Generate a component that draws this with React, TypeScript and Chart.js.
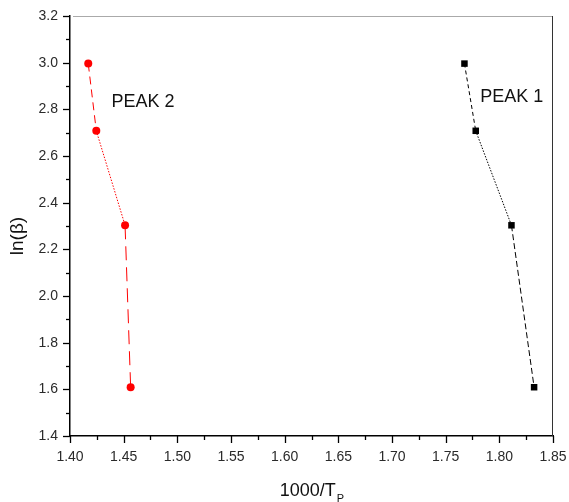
import React, { useEffect, useRef } from "react";
import { Chart, registerables } from "chart.js";
Chart.register(...registerables);

// ln(beta) for beta = 20, 15, 10, 5
const lnBeta = [2.996, 2.708, 2.303, 1.609];
const peak1X = [1.7675, 1.778, 1.8113, 1.8324];
const peak2X = [1.417, 1.4245, 1.4513, 1.4565];
const peakLabels = ["PEAK 1", "PEAK 2"];
const peakLabelX = [1.8115, 1.468];
const peakLabelY = [2.853, 2.831];
const xMin = 1.4, xMax = 1.85, xStep = 0.05;
const yMin = 1.4, yMax = 3.2, yStep = 0.2;
const xTitle = "1000/T";
const xTitleSub = "P";
const yTitle = "ln(β)";

const dashes1 = [[4, 3], [1.5, 1.5], [6, 3]];
const dashes2 = [[8, 5], [1.5, 1.5], [14, 7]];

const FONT = "'Liberation Sans', Arial, sans-serif";

const decor = {
  id: "decor",
  afterDraw(chart: any) {
    const ctx = chart.ctx;
    const a = chart.chartArea;
    const xs = chart.scales.x;
    const ys = chart.scales.y;
    ctx.save();
    // top and right frame
    ctx.lineWidth = 1;
    ctx.strokeStyle = "#aaaaaa";
    ctx.beginPath();
    ctx.moveTo(a.left + 3, a.top + 0.5);
    ctx.lineTo(a.right, a.top + 0.5);
    ctx.stroke();
    ctx.strokeStyle = "#333333";
    ctx.beginPath();
    ctx.moveTo(a.right - 0.5, a.top);
    ctx.lineTo(a.right - 0.5, a.bottom);
    ctx.stroke();
    // tick marks
    ctx.strokeStyle = "#000";
    ctx.lineWidth = 1.3;
    const nx = Math.round((xMax - xMin) / (xStep / 2));
    for (let i = 0; i <= nx; i++) {
      const v = xMin + (i * xStep) / 2;
      const px = Math.round(xs.getPixelForValue(v)) + 0.5;
      const len = i % 2 === 0 ? 7 : 4;
      ctx.beginPath();
      ctx.moveTo(px, a.bottom);
      ctx.lineTo(px, a.bottom + len);
      ctx.stroke();
    }
    const ny = Math.round((yMax - yMin) / (yStep / 2));
    for (let i = 0; i <= ny; i++) {
      const v = yMin + (i * yStep) / 2;
      const py = Math.round(ys.getPixelForValue(v)) + 0.5;
      const len = i % 2 === 0 ? 7 : 4;
      ctx.beginPath();
      ctx.moveTo(a.left, py);
      ctx.lineTo(a.left - len, py);
      ctx.stroke();
    }
    // peak labels
    ctx.fillStyle = "#111";
    ctx.font = `18px ${FONT}`;
    ctx.textAlign = "center";
    ctx.textBaseline = "middle";
    for (let i = 0; i < peakLabels.length; i++) {
      ctx.fillText(peakLabels[i], xs.getPixelForValue(peakLabelX[i]), ys.getPixelForValue(peakLabelY[i]));
    }
    // x title with subscript
    ctx.font = `18px ${FONT}`;
    ctx.textBaseline = "alphabetic";
    ctx.textAlign = "left";
    const w1 = ctx.measureText(xTitle).width;
    ctx.font = `11px ${FONT}`;
    const w2 = ctx.measureText(xTitleSub).width;
    const cx = (a.left + a.right) / 2;
    const sx = cx - (w1 + w2) / 2;
    ctx.font = `18px ${FONT}`;
    ctx.fillText(xTitle, sx, 496);
    ctx.font = `11px ${FONT}`;
    ctx.fillText(xTitleSub, sx + w1 + 1, 502);
    // y title
    ctx.translate(23, 236);
    ctx.rotate(-Math.PI / 2);
    ctx.font = `19px ${FONT}`;
    ctx.textAlign = "center";
    ctx.fillText(yTitle, 0, 0);
    ctx.restore();
  },
};

export default function App() {
  const ref = useRef<HTMLCanvasElement>(null);
  useEffect(() => {
    document.body.style.margin = "0";
    const canvas = ref.current!;
    const chart = new Chart(canvas, {
      type: "scatter",
      data: {
        datasets: [
          {
            label: "PEAK 1",
            data: peak1X.map((x, i) => ({ x, y: lnBeta[i] })),
            showLine: true,
            borderColor: "#000",
            backgroundColor: "#000",
            borderWidth: 1,
            pointStyle: "rect",
            pointRadius: 4.6,
            pointBorderWidth: 0,
            segment: { borderDash: (c: any) => dashes1[c.p0DataIndex] },
          },
          {
            label: "PEAK 2",
            data: peak2X.map((x, i) => ({ x, y: lnBeta[i] })),
            showLine: true,
            borderColor: "#ff0000",
            backgroundColor: "#ff0000",
            borderWidth: 1,
            pointStyle: "circle",
            pointRadius: 4,
            pointBorderWidth: 0,
            segment: { borderDash: (c: any) => dashes2[c.p0DataIndex] },
          },
        ],
      },
      options: {
        responsive: false,
        animation: false,
        layout: { padding: { top: 16, right: 16, left: 0, bottom: 0 } },
        plugins: { legend: { display: false }, tooltip: { enabled: false } },
        scales: {
          x: {
            type: "linear",
            min: xMin,
            max: xMax,
            afterFit: (s: any) => {
              s.height = 66;
              s.paddingLeft = 0;
              s.paddingRight = 0;
            },
            grid: { display: false, drawTicks: false },
            border: { display: true, color: "#000", width: 1.5 },
            ticks: {
              stepSize: xStep,
              padding: 13,
              color: "#2a2a2a",
              font: { family: FONT, size: 14 },
              callback: (v: any) => Number(v).toFixed(2),
              maxRotation: 0,
            },
          },
          y: {
            type: "linear",
            min: yMin,
            max: yMax,
            afterFit: (s: any) => {
              s.width = 70;
              s.paddingTop = 0;
              s.paddingBottom = 0;
            },
            grid: { display: false, drawTicks: false },
            border: { display: true, color: "#000", width: 1.5 },
            ticks: {
              stepSize: yStep,
              padding: 12,
              color: "#2a2a2a",
              font: { family: FONT, size: 14 },
              callback: (v: any) => Number(v).toFixed(1),
            },
          },
        },
      },
      plugins: [decor],
    } as any);
    return () => chart.destroy();
  }, []);
  return <canvas ref={ref} width={569} height={502} style={{ display: "block" }} />;
}
